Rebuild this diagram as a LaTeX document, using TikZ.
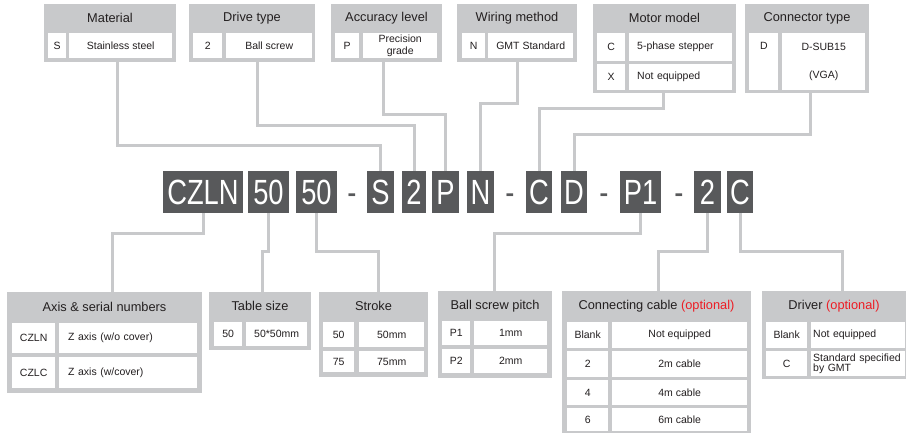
\documentclass[tikz,border=0pt]{standalone}
\usepackage{fontspec}
\setmainfont{Liberation Sans}
\newfontfamily\codefont[FakeStretch=0.78]{Liberation Sans}
\usetikzlibrary{positioning}
\definecolor{PanelGray}{RGB}{200,201,203}
\definecolor{CodeDark}{RGB}{88,89,91}
\definecolor{InkGray}{RGB}{35,31,32}
\definecolor{OptRed}{RGB}{237,28,36}

\begin{document}
\begin{tikzpicture}[
    x=1pt,
    y=-1pt,
    panel/.style={
        fill=PanelGray,
        anchor=north west,
        inner sep=0pt
    },
    head/.style={
        font=\fontsize{12.8}{14}\selectfont,
        text=InkGray,
        inner sep=0pt
    },
    cell/.style={
        fill=white,
        anchor=north west,
        inner sep=0pt,
        align=center,
        text=InkGray,
        font=\fontsize{10.5}{12.5}\selectfont
    },
    lcell/.style={
        cell,
        align=left,
        inner xsep=8pt
    },
    code/.style={
        fill=CodeDark,
        text=white,
        inner sep=0pt,
        minimum height=42pt,
        text height=25pt,
        text depth=0pt,
        font=\codefont\fontsize{35}{35}\selectfont
    },
    hyph/.style={
        code,
        fill=none,
        text=CodeDark
    },
    link/.style={
        draw=PanelGray,
        line width=3pt
    }
]
\useasboundingbox (0,0) rectangle (908,433);

\node[panel, minimum width=132pt, minimum height=58pt] (mat) at (44,4) {};
\node[panel, minimum width=126pt, minimum height=58pt] (drv) at (189,4) {};
\node[panel, minimum width=111pt, minimum height=58pt] (acc) at (331,4) {};
\node[panel, minimum width=120pt, minimum height=58pt] (wir) at (457,4) {};
\node[panel, minimum width=143pt, minimum height=89pt] (mot) at (593,4) {};
\node[panel, minimum width=124pt, minimum height=89pt] (con) at (745,4) {};

\node[head] (mathead) at (110,18) {Material};
\node[head] (drvhead) at (252,18) {Drive type};
\node[head] (acchead) at (386.5,18) {Accuracy level};
\node[head] (wirhead) at (517,18) {Wiring method};
\node[head] (mothead) at (664.5,18) {Motor model};
\node[head] (conhead) at (807,18) {Connector type};

\node[cell, minimum width=18pt, minimum height=25pt] (matk) at (48,33) {S};
\node[cell, minimum width=103pt, minimum height=25pt] (matv) at (69,33) {Stainless steel};
\node[cell, minimum width=29pt, minimum height=25pt] (drvk) at (193,33) {2};
\node[cell, minimum width=86pt, minimum height=25pt] (drvv) at (226,33) {Ball screw};
\node[cell, minimum width=24pt, minimum height=25pt] (acck) at (335,33) {P};
\node[cell, minimum width=74pt, minimum height=25pt, font=\fontsize{10.5}{11.5}\selectfont] (accv) at (363,33) {Precision\\grade};
\node[cell, minimum width=23pt, minimum height=25pt] (wirk) at (462,33) {N};
\node[cell, minimum width=85pt, minimum height=25pt] (wirv) at (488,33) {GMT Standard};
\node[cell, minimum width=28pt, minimum height=28pt] (motk1) at (597,33) {C};
\node[lcell, text width=87pt, minimum height=28pt] (motv1) at (629,33) {5-phase stepper};
\node[cell, minimum width=28pt, minimum height=26pt] (motk2) at (597,64) {X};
\node[lcell, text width=87pt, minimum height=26pt] (motv2) at (629,64) {Not equipped};
\node[cell, minimum width=28pt, minimum height=57pt] (conk) at (749,33) {D\\[16pt]\phantom{(VGA)}};
\node[cell, minimum width=83pt, minimum height=57pt] (conv) at (782,33) {D-SUB15\\[16pt](VGA)};

\node[code, minimum width=80pt] (cCZLN) at (203,192) {CZLN};
\node[code, minimum width=41pt] (cFifA) at (268.5,192) {50};
\node[code, minimum width=41pt] (cFifB) at (316.5,192) {50};
\node[hyph] (dashA) at (352,192) {-};
\node[code, minimum width=27pt] (cS) at (380.5,192) {S};
\node[code, minimum width=24pt] (cTwo) at (414,192) {2};
\node[code, minimum width=27pt] (cP) at (445.5,192) {P};
\node[code, minimum width=27pt] (cN) at (480.5,192) {N};
\node[hyph] (dashB) at (510,192) {-};
\node[code, minimum width=26pt] (cC) at (539,192) {C};
\node[code, minimum width=26pt] (cD) at (574,192) {D};
\node[hyph] (dashC) at (604,192) {-};
\node[code, minimum width=41pt] (cPone) at (640.5,192) {P1};
\node[hyph] (dashD) at (679,192) {-};
\node[code, minimum width=27pt] (cLen) at (707.5,192) {2};
\node[code, minimum width=26pt] (cDrv) at (740,192) {C};

\node[panel, minimum width=195pt, minimum height=101pt] (axs) at (7,292) {};
\node[panel, minimum width=102pt, minimum height=58pt] (tbl) at (209,292) {};
\node[panel, minimum width=109pt, minimum height=85pt] (stk) at (319,292) {};
\node[panel, minimum width=114pt, minimum height=87pt] (pit) at (438,291) {};
\node[panel, minimum width=189pt, minimum height=142pt] (cab) at (562,291) {};
\node[panel, minimum width=144pt, minimum height=88pt] (drvr) at (762,291) {};

\node[head] (axshead) at (104.5,307) {Axis \& serial numbers};
\node[head] (tblhead) at (260,306) {Table size};
\node[head] (stkhead) at (373.5,306) {Stroke};
\node[head] (pithead) at (495,306) {Ball screw pitch};
\node[head] (cabhead) at (656.5,306) {Connecting cable \textcolor{OptRed}{(optional)}};
\node[head] (drvrhead) at (834,306) {Driver \textcolor{OptRed}{(optional)}};

\node[cell, minimum width=43pt, minimum height=30pt] (axsk1) at (12,323) {CZLN};
\node[lcell, inner xsep=9pt, text width=120pt, minimum height=30pt] (axsv1) at (59,323) {Z axis (w/o cover)};
\node[cell, minimum width=43pt, minimum height=31pt] (axsk2) at (12,357) {CZLC};
\node[lcell, inner xsep=9pt, text width=120pt, minimum height=31pt] (axsv2) at (59,357) {Z axis (w/cover)};

\node[cell, minimum width=28pt, minimum height=24pt] (tblk) at (214,322) {50};
\node[cell, minimum width=61pt, minimum height=24pt] (tblv) at (246,322) {50*50mm};

\node[cell, minimum width=31pt, minimum height=25pt] (stkk1) at (323,322) {50};
\node[cell, minimum width=65pt, minimum height=25pt] (stkv1) at (359,322) {50mm};
\node[cell, minimum width=31pt, minimum height=21pt] (stkk2) at (323,351) {75};
\node[cell, minimum width=65pt, minimum height=21pt] (stkv2) at (359,351) {75mm};

\node[cell, minimum width=28pt, minimum height=24pt] (pitk1) at (442,321) {P1};
\node[cell, minimum width=73pt, minimum height=24pt] (pitv1) at (474,321) {1mm};
\node[cell, minimum width=28pt, minimum height=24pt] (pitk2) at (442,349) {P2};
\node[cell, minimum width=73pt, minimum height=24pt] (pitv2) at (474,349) {2mm};

\node[cell, minimum width=41pt, minimum height=26pt] (cabk1) at (567,322) {Blank};
\node[cell, minimum width=135pt, minimum height=26pt] (cabv1) at (612,322) {Not equipped};
\node[cell, minimum width=41pt, minimum height=26pt] (cabk2) at (567,351) {2};
\node[cell, minimum width=135pt, minimum height=26pt] (cabv2) at (612,351) {2m cable};
\node[cell, minimum width=41pt, minimum height=25pt] (cabk3) at (567,380) {4};
\node[cell, minimum width=135pt, minimum height=25pt] (cabv3) at (612,380) {4m cable};
\node[cell, minimum width=41pt, minimum height=23pt] (cabk4) at (567,408) {6};
\node[cell, minimum width=135pt, minimum height=23pt] (cabv4) at (612,408) {6m cable};

\node[cell, minimum width=41pt, minimum height=26pt] (drvrk1) at (766,322) {Blank};
\node[lcell, inner xsep=2pt, text width=90pt, minimum height=26pt] (drvrv1) at (811,322) {Not equipped};
\node[cell, minimum width=41pt, minimum height=25pt] (drvrk2) at (766,351) {C};
\node[lcell, inner xsep=2pt, text width=90pt, minimum height=25pt, font=\fontsize{10.5}{9.5}\selectfont] (drvrv2) at (811,351) {Standard specified\\by GMT};

\draw[link] ([xshift=7pt]mat.south) -- ++(0,83) -| (cS.north);
\draw[link] ([xshift=5pt]drv.south) -- ++(0,63) -| (cTwo.north);
\draw[link] ([xshift=-3.5pt]acc.south) -- ++(0,52) -| (cP.north);
\draw[link] (wir.south) -- ++(0,41) -| (cN.north);
\draw[link] ([xshift=-1.5pt]mot.south) -- ++(0,15) -| (cC.north);
\draw[link] ([xshift=3pt]con.south) -- ++(0,41) -| (cD.north);

\draw[link] (cCZLN.south) -- ++(0,20) -| ([xshift=7.5pt]axs.north);
\draw[link] (cFifA.south) -- ++(0,38) -| ([xshift=2pt]tbl.north);
\draw[link] (cFifB.south) -- ++(0,38) -| ([xshift=4.5pt]stk.north);
\draw[link] (cPone.south) -- ++(0,20) -| ([xshift=-1pt]pit.north);
\draw[link] (cLen.south) -- ++(0,38) -| ([xshift=1.5pt]cab.north);
\draw[link] (cDrv.south) -- ++(0,38) -| ([xshift=8pt]drvr.north);

\end{tikzpicture}
\end{document}
